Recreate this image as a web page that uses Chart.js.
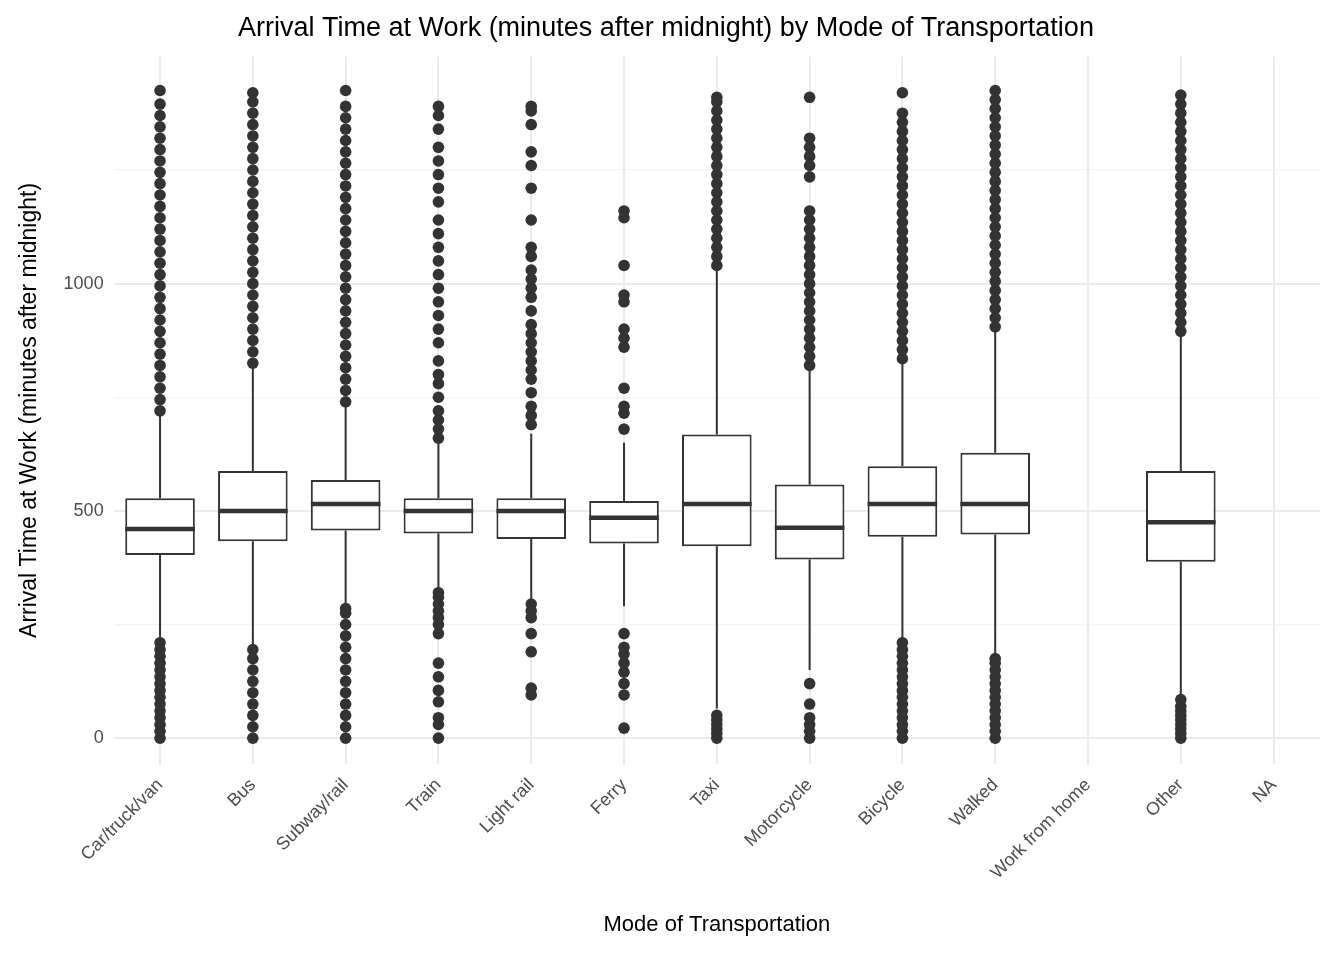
<!DOCTYPE html>
<html>
<head>
<meta charset="utf-8">
<script src="https://cdn.jsdelivr.net/npm/chart.js@4"></script>
<style>
  body { margin: 0; background: #fff; }
  #wrap { width: 1344px; height: 960px; }
</style>
</head>
<body>
<div id="wrap"><canvas id="chart" width="1344" height="960"></canvas></div>
<script>
// --- data (minutes after midnight) ---
const modes = ['Car/truck/van', 'Bus', 'Subway/rail', 'Train', 'Light rail', 'Ferry', 'Taxi',
  'Motorcycle', 'Bicycle', 'Walked', 'Work from home', 'Other', 'NA'];
const lowWhisker = [215, 200, 290, 330, 305, 290, 65, 150, 215, 180, null, 90, null];
const q1 = [403, 433, 457, 450, 438, 428, 422, 393, 443, 448, null, 388, null];
const medians = [460, 500, 515, 500, 500, 485, 515, 463, 515, 515, null, 475, null];
const q3 = [528, 588, 568, 528, 528, 522, 668, 558, 598, 628, null, 588, null];
const highWhisker = [715, 820, 735, 650, 670, 650, 1030, 810, 830, 900, null, 890, null];

const outliers = {
  'Car/truck/van': [0, 15, 30, 45, 60, 75, 90, 105, 120, 135, 150, 165, 180, 195, 210,
    720, 745, 770, 795, 820, 845, 870, 895, 920, 945, 970, 995, 1020, 1045, 1070, 1095, 1120,
    1145, 1170, 1195, 1220, 1245, 1270, 1295, 1320, 1345, 1370, 1395, 1425],
  'Bus': [0, 25, 50, 75, 100, 125, 150, 175, 195,
    825, 850, 875, 900, 925, 950, 975, 1000, 1025, 1050, 1075, 1100, 1125, 1150, 1175, 1200,
    1225, 1250, 1275, 1300, 1325, 1350, 1375, 1400, 1420],
  'Subway/rail': [0, 25, 50, 75, 100, 125, 150, 175, 200, 225, 250, 275, 285,
    740, 765, 790, 815, 840, 865, 890, 915, 940, 965, 990, 1015, 1040, 1065, 1090, 1115, 1140,
    1165, 1190, 1215, 1240, 1265, 1290, 1315, 1340, 1365, 1390, 1425],
  'Train': [0, 30, 45, 80, 105, 135, 165, 230, 250, 265, 280, 295, 310, 320,
    660, 680, 700, 720, 750, 780, 800, 830, 870, 900, 930, 960, 990, 1020, 1050, 1080, 1110,
    1140, 1180, 1210, 1240, 1270, 1300, 1340, 1370, 1390],
  'Light rail': [95, 110, 190, 230, 265, 280, 295,
    690, 710, 730, 760, 790, 810, 830, 850, 870, 890, 910, 940, 970, 990, 1010, 1030, 1060,
    1080, 1140, 1210, 1260, 1290, 1350, 1380, 1390],
  'Ferry': [22, 95, 120, 145, 165, 185, 200, 230, 680, 715, 730, 770, 860, 880, 900, 960, 975,
    1040, 1145, 1160],
  'Taxi': [0, 10, 20, 30, 40, 50, 1040, 1060, 1080, 1100, 1120, 1140, 1160, 1180, 1200, 1220,
    1240, 1260, 1280, 1300, 1320, 1340, 1360, 1380, 1400, 1410],
  'Motorcycle': [0, 15, 30, 45, 75, 120, 820, 840, 860, 880, 900, 920, 940, 960, 980, 1000,
    1020, 1040, 1060, 1080, 1100, 1120, 1140, 1160, 1235, 1260, 1280, 1300, 1320, 1410],
  'Bicycle': [0, 15, 30, 45, 60, 75, 90, 105, 120, 135, 150, 165, 180, 195, 210,
    835, 855, 875, 895, 915, 935, 955, 975, 995, 1015, 1035, 1055, 1075, 1095, 1115, 1135,
    1155, 1175, 1195, 1215, 1235, 1255, 1275, 1295, 1315, 1335, 1355, 1375, 1420],
  'Walked': [0, 15, 30, 45, 60, 75, 90, 105, 120, 135, 150, 165, 175,
    905, 925, 945, 965, 985, 1005, 1025, 1045, 1065, 1085, 1105, 1125, 1145, 1165, 1185,
    1205, 1225, 1245, 1265, 1285, 1305, 1325, 1345, 1365, 1385, 1405, 1425],
  'Other': [0, 10, 20, 30, 40, 50, 60, 70, 85,
    895, 915, 935, 955, 975, 995, 1015, 1035, 1055, 1075, 1095, 1115, 1135, 1155, 1175, 1195,
    1215, 1235, 1255, 1275, 1295, 1315, 1335, 1355, 1375, 1395, 1415]
};

const yTicks = [0, 500, 1000];

const ink = '#333333';
const outlierPoints = [];
Object.keys(outliers).forEach(m => outliers[m].forEach(v => outlierPoints.push({ x: m, y: v })));

// whiskers below the boxes, medians on top
const boxLines = {
  id: 'boxLines',
  beforeDatasetsDraw(chart) {
    const { ctx, scales: { x, y } } = chart;
    ctx.save();
    ctx.strokeStyle = ink;
    ctx.lineWidth = 2;
    modes.forEach((m, i) => {
      if (q1[i] == null) return;
      const px = x.getPixelForValue(i);
      ctx.beginPath();
      ctx.moveTo(px, y.getPixelForValue(lowWhisker[i]));
      ctx.lineTo(px, y.getPixelForValue(q1[i]));
      ctx.moveTo(px, y.getPixelForValue(q3[i]));
      ctx.lineTo(px, y.getPixelForValue(highWhisker[i]));
      ctx.stroke();
    });
    ctx.restore();
  },
  afterDatasetsDraw(chart) {
    const { ctx, scales: { y } } = chart;
    const meta = chart.getDatasetMeta(1);
    ctx.save();
    ctx.strokeStyle = ink;
    ctx.lineWidth = 4.5;
    modes.forEach((m, i) => {
      if (medians[i] == null) return;
      const bar = meta.data[i];
      const py = y.getPixelForValue(medians[i]);
      ctx.beginPath();
      ctx.moveTo(bar.x - bar.width / 2, py);
      ctx.lineTo(bar.x + bar.width / 2, py);
      ctx.stroke();
    });
    ctx.restore();
  }
};

new Chart(document.getElementById('chart'), {
  data: {
    labels: modes,
    datasets: [
      {
        type: 'scatter',
        data: outlierPoints,
        pointRadius: 5.8,
        pointBackgroundColor: ink,
        pointBorderWidth: 0,
        order: 2
      },
      {
        type: 'bar',
        data: modes.map((m, i) => q1[i] == null ? null : [q1[i], q3[i]]),
        backgroundColor: '#ffffff',
        borderColor: ink,
        borderWidth: 2,
        borderSkipped: false,
        barPercentage: 0.75,
        categoryPercentage: 1,
        order: 1
      }
    ]
  },
  plugins: [boxLines],
  options: {
    responsive: false,
    animation: false,
    layout: { padding: { left: 12, right: 24, top: 4, bottom: 18 } },
    plugins: {
      legend: { display: false },
      tooltip: { enabled: false },
      title: {
        display: true,
        text: 'Arrival Time at Work (minutes after midnight) by Mode of Transportation',
        color: '#000',
        font: { family: 'Liberation Sans', size: 27, weight: 'normal' },
        align: 'center',
        padding: { top: 8, bottom: 12 }
      }
    },
    scales: {
      x: {
        type: 'category',
        offset: true,
        grid: { color: '#ebebeb', lineWidth: 2, offset: false, drawTicks: false },
        border: { display: false },
        ticks: {
          color: '#4d4d4d', font: { family: 'Liberation Sans', size: 18 },
          maxRotation: 45, minRotation: 45, padding: 10
        },
        title: {
          display: true, text: 'Mode of Transportation', color: '#000',
          font: { family: 'Liberation Sans', size: 22 }, padding: { top: 18 }
        }
      },
      y: {
        min: -58, max: 1500,
        grid: {
          color: ctx => (ctx.tick && yTicks.includes(ctx.tick.value)) ? '#ebebeb' : '#f3f3f3',
          lineWidth: ctx => (ctx.tick && yTicks.includes(ctx.tick.value)) ? 2 : 1.2,
          drawTicks: false
        },
        border: { display: false },
        afterBuildTicks: axis => {
          axis.ticks = [0, 250, 500, 750, 1000, 1250].map(v => ({ value: v }));
        },
        ticks: {
          color: '#4d4d4d', font: { family: 'Liberation Sans', size: 18 }, padding: 10,
          callback: v => yTicks.includes(v) ? String(v) : ''
        },
        title: {
          display: true, text: 'Arrival Time at Work (minutes after midnight)', color: '#000',
          font: { family: 'Liberation Sans', size: 23 }, padding: { bottom: 10 }
        }
      }
    }
  }
});
</script>
</body>
</html>
